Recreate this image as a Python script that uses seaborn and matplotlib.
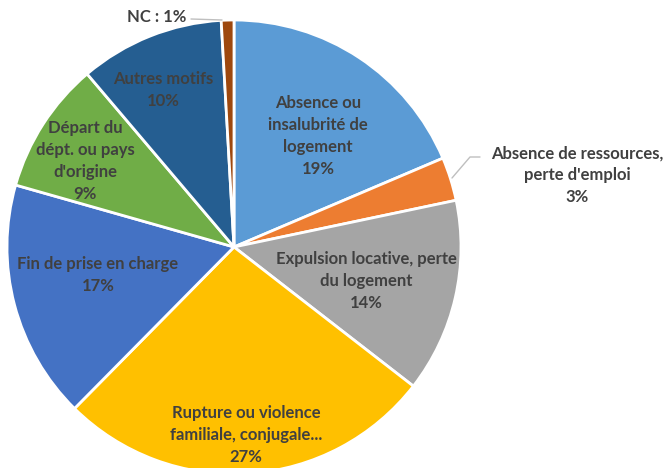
"""Pie chart: motifs de la demande (reproduction)."""

import matplotlib
matplotlib.use("Agg")
import matplotlib.pyplot as plt
import seaborn as sns

categories = [
    "Absence ou\ninsalubrité de\nlogement",
    "Absence de ressources,\nperte d'emploi",
    "Expulsion locative, perte\ndu logement",
    "Rupture ou violence\nfamiliale, conjugale...",
    "Fin de prise en charge",
    "Départ du\ndépt. ou pays\nd'origine",
    "Autres motifs",
    "NC",
]
shares = [18.6, 3.1, 13.8, 26.9, 17.0, 9.4, 10.3, 0.9]
hex_colors = ["#5B9BD5", "#ED7D31", "#A5A5A5", "#FFC000",
              "#4472C4", "#70AD47", "#255E91", "#9E480E"]

sns.set_theme(style="white")
plt.rcParams["font.family"] = ["Lato", "DejaVu Sans"]
colors = sns.color_palette(hex_colors)

fig = plt.figure(figsize=(6.66, 4.68), dpi=100)
ax = fig.add_axes([0, 0, 1, 1])

# pie in pixel space so the crop matches the reference
cx, cy, r = 234, 468 - 247, 227
ax.pie(shares, colors=colors, startangle=90, counterclock=False,
       center=(cx, cy), radius=r,
       wedgeprops=dict(edgecolor="white", linewidth=2))
ax.set_xlim(0, 666)
ax.set_ylim(0, 468)
ax.set_aspect("equal")
ax.axis("off")

txt = dict(ha="center", va="center", fontsize=12, fontweight="bold",
           color="#404040", linespacing=1.45)

# label anchor points (pixels from top-left)
label_pos = [(318, 136), (577, 175), (366, 281), (246, 435),
             (98, 275), (85, 161), (163, 90)]
for name, share, (x, y) in zip(categories, shares, label_pos):
    ax.text(x, 468 - y, f"{name}\n{round(share)}%", **txt)

ax.text(157, 468 - 17, f"{categories[-1]} : {round(shares[-1])}%", **txt)
ax.plot([191, 222], [468 - 19, 468 - 20], color="#BFBFBF", lw=1)
ax.plot([480, 470, 452], [468 - 157, 468 - 157, 468 - 178], color="#BFBFBF", lw=1)

fig.savefig("out.png", dpi=100)
